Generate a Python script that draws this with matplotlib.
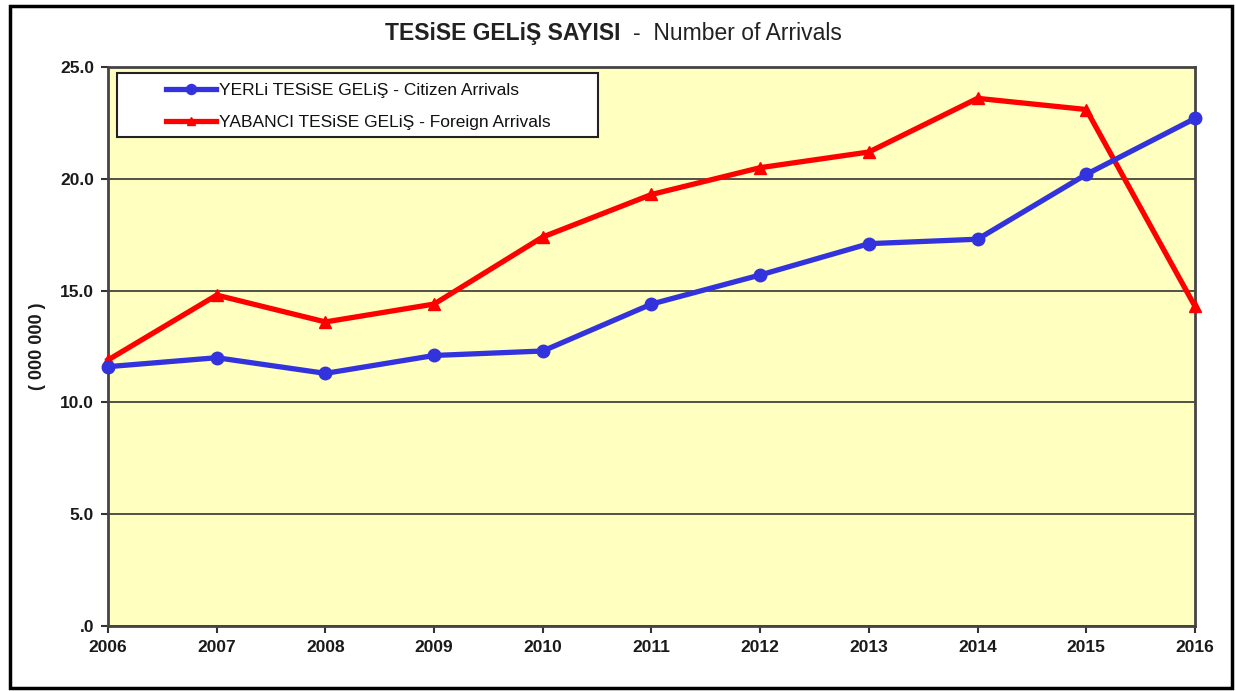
import matplotlib
matplotlib.use("Agg")
import matplotlib.pyplot as plt
from matplotlib.patches import Rectangle

plt.rcParams['font.family'] = ['Liberation Sans', 'DejaVu Sans']

years = [2006, 2007, 2008, 2009, 2010, 2011, 2012, 2013, 2014, 2015, 2016]
citizen = [11.6, 12.0, 11.3, 12.1, 12.3, 14.4, 15.7, 17.1, 17.3, 20.2, 22.7]
foreign = [11.9, 14.8, 13.6, 14.4, 17.4, 19.3, 20.5, 21.2, 23.6, 23.1, 14.3]
yticks = [0, 5, 10, 15, 20, 25]
ytick_labels = ['.0', '5.0', '10.0', '15.0', '20.0', '25.0']

fig = plt.figure(figsize=(12.36, 6.91), dpi=100)
ax = fig.add_axes([0.0874, 0.094, 0.8794, 0.809])
ax.set_facecolor('#ffffc0')

ax.plot(years, citizen, color='#3333dd', lw=3.8, marker='o', ms=9,
        label='YERLi TESiSE GELiŞ - Citizen Arrivals', zorder=4, clip_on=False)
ax.plot(years, foreign, color='#ff0000', lw=3.8, marker='^', ms=8,
        label='YABANCI TESiSE GELiŞ - Foreign Arrivals', zorder=3, clip_on=False)

ax.set_xlim(years[0], years[-1])
ax.set_ylim(0, 25)
ax.set_xticks(years)
ax.set_xticklabels([str(y) for y in years], fontsize=12.5, fontweight='bold')
ax.set_yticks(yticks)
ax.set_yticklabels(ytick_labels, fontsize=12.5, fontweight='bold')
ax.tick_params(length=5, width=1.5, color='#333333', pad=5, labelcolor='#1a1a1a')
ax.yaxis.grid(True, color='#333333', lw=1.2)
for s in ax.spines.values():
    s.set_color('#444444')
    s.set_linewidth(2)

ax.set_ylabel('( 000 000 )', fontsize=13, fontweight='bold', labelpad=10,
              color='#1a1a1a')

# legend box drawn separately so the handles can sit inset as in the original
ax.add_patch(Rectangle((0.0083, 0.875), 0.4425, 0.114, transform=ax.transAxes,
                       facecolor='white', edgecolor='#222222', lw=1.5, zorder=5))
leg = ax.legend(loc='upper left', bbox_to_anchor=(0.045, 0.987), frameon=False,
                handlelength=2.9, handletextpad=0.15, borderpad=0,
                labelspacing=0.95, prop={'size': 12.5}, markerscale=0.8)
leg.set_zorder(6)
for t in leg.get_texts():
    t.set_color('#111111')

fig.text(0.502, 0.952, 'TESiSE GELiŞ SAYISI', ha='right', va='center',
         fontsize=16.5, fontweight='bold', color='#222222')
fig.text(0.512, 0.952, '-  Number of Arrivals', ha='left', va='center',
         fontsize=16.5, color='#222222')

fig.patches.append(Rectangle((0.008, 0.005), 0.989, 0.987, transform=fig.transFigure,
                             fill=False, edgecolor='black', lw=2.5))

fig.savefig('out.png', dpi=100)
